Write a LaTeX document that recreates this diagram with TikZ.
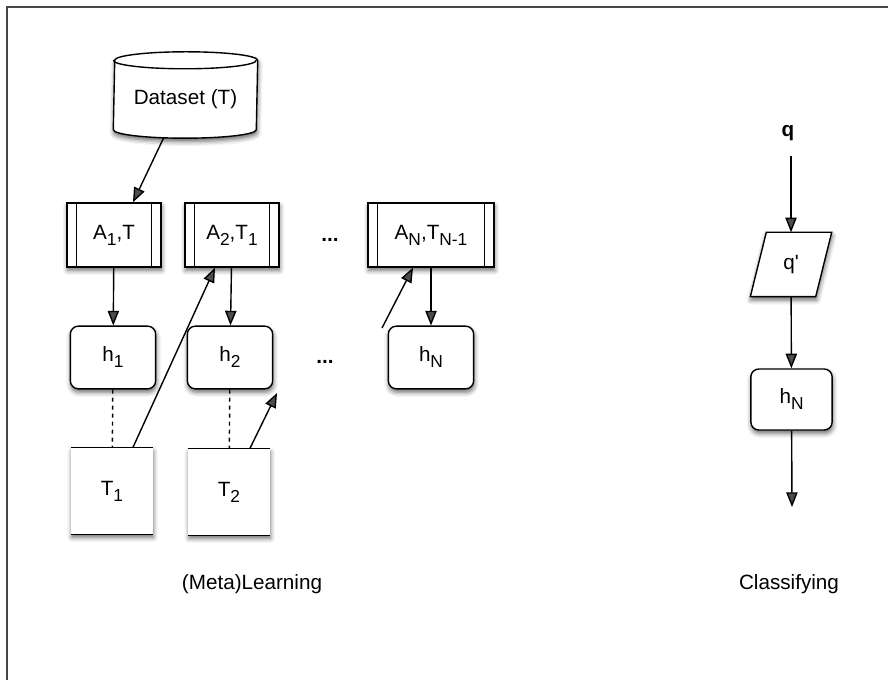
\documentclass[tikz,border=0pt]{standalone}
\usepackage{fontspec}
\setmainfont{Liberation Sans}
\newfontfamily\plainsans{Liberation Sans}
\usepackage{tikz}
\usetikzlibrary{calc}
\usetikzlibrary{arrows.meta}
\usetikzlibrary{shadows.blur}
\definecolor{frame-gray}{RGB}{70, 70, 70}
\newcommand{\lowsub}[1]{\raisebox{-0.55ex}{\fontsize{13}{14}\selectfont #1}}

\begin{document}
\begin{tikzpicture}[x = 0.75pt, y = -0.75pt, line width = 1.05pt,
          >={Triangle[length = 11pt, width = 8.5pt]},
          every node/.style = {font = \fontsize{15.5}{18}\selectfont},
          soft/.style = {blur shadow = {shadow xshift = 0.5pt, shadow yshift = -2.5pt, shadow blur radius = 3.5pt, shadow opacity = 60}},
          algo/.style = {draw, fill = white, soft, minimum width = 70.5pt, minimum height = 48pt},
          hyp/.style = {draw, fill = white, soft, rounded corners = 6pt, minimum width = 64pt, minimum height = 47pt},
          store/.style = {fill = white, soft, minimum width = 61pt, minimum height = 64.5pt}]
          \useasboundingbox (0, 0) rectangle (888, 680);
          \draw[frame-gray, line width = 1.2pt] (7, 680) -- (7, 7) -- (888, 7);

          \node[minimum width = 107.25pt, minimum height = 63.75pt] (dataset) at (185.5, 95) {};
          \draw[fill = white, soft] ($(dataset.south west) + (0, -8.5)$) arc[start angle = 180, end angle = 0, x radius = 71.5, y radius = 8.5]
            -- ($(dataset.north east) + (0, 8.5)$) arc[start angle = 0, end angle = -180, x radius = 71.5, y radius = 8.5] -- cycle;
          \draw ($(dataset.north west) + (0, 8.5)$) arc[start angle = 180, end angle = 0, x radius = 71.5, y radius = 8.5];
          \node at ($(dataset.center) + (0, 4)$) {Dataset (T)};

          \node[algo] (a1) at (114, 235) {A\lowsub{1},T};
          \node[algo] (a2) at (232, 235) {A\lowsub{2},T\lowsub{1}};
          \node[algo, minimum width = 94.5pt] (aN) at (431, 235) {A\lowsub{N},T\lowsub{N-1}};
          \foreach \a in {a1, a2, aN} {
            \draw ($(\a.north west) + (10, 0)$) -- ($(\a.south west) + (10, 0)$);
            \draw ($(\a.north east) - (10, 0)$) -- ($(\a.south east) - (10, 0)$);
          }
          \node (dotsA) at (330, 240) {\textbf{...}};

          \node[hyp] (h1) at (113, 357.5) {h\lowsub{1}};
          \node[hyp] (h2) at (230, 357.5) {h\lowsub{2}};
          \node[hyp] (hN) at (431, 357.5) {h\lowsub{N}};
          \node (dotsH) at (325, 362) {\textbf{...}};

          \node[store] (t1) at (112, 491) {T\lowsub{1}};
          \node[store] (t2) at (229, 492) {T\lowsub{2}};
          \foreach \t in {t1, t2} {
            \draw (\t.north west) -- (\t.north east);
            \draw (\t.south west) -- (\t.south east);
          }

          \coordinate (d-out) at ($(dataset.south) + (-22, 0)$);
          \coordinate (a1-in) at ($(a1.north) + (19, 0)$);
          \coordinate (t1-out) at ($(t1.north) + (21, 0)$);
          \coordinate (a2-in) at ($(a2.south) + (-17, 0)$);
          \coordinate (t2-out) at ($(t2.north) + (21, 0)$);
          \coordinate (t2-end) at (277, 393);
          \coordinate (aN-start) at (382, 328);
          \coordinate (aN-in) at ($(aN.south) + (-18, 0)$);

          \draw[->] (d-out) -- (a1-in);
          \draw[->] (a1) -- (h1);
          \draw[->] (a2) -- (h2);
          \draw[->] (aN) -- (hN);
          \draw[dashed] (h1) -- (t1);
          \draw[dashed] (h2) -- (t2);
          \draw[->] (t1-out) -- (a2-in);
          \draw[->] (t2-out) -- (t2-end);
          \draw[->] (aN-start) -- (aN-in);

          \node (q) at (788, 133) {\textbf{q}};
          \node[minimum width = 60pt, minimum height = 47.25pt] (qp) at (791, 264.5) {};
          \draw[fill = white, soft] ($(qp.north west) + (16, 0)$) -- (qp.north east) -- ($(qp.south east) - (16, 0)$) -- (qp.south west) -- cycle;
          \node at (qp) {\plainsans q'};
          \node[hyp, minimum width = 61pt, minimum height = 45.75pt] (hq) at (791.5, 399.5) {h\lowsub{N}};
          \coordinate (q-out) at ($(q.south) + (3, 10)$);
          \coordinate (hq-end) at (792, 507);
          \draw[->] (q-out) -- (qp);
          \draw[->] (qp) -- (hq);
          \draw[->] (hq) -- (hq-end);

          \node (learn) at (252, 584) {(Meta)Learning};
          \node (classify) at (789, 584) {Classifying};
        \end{tikzpicture}
\end{document}
